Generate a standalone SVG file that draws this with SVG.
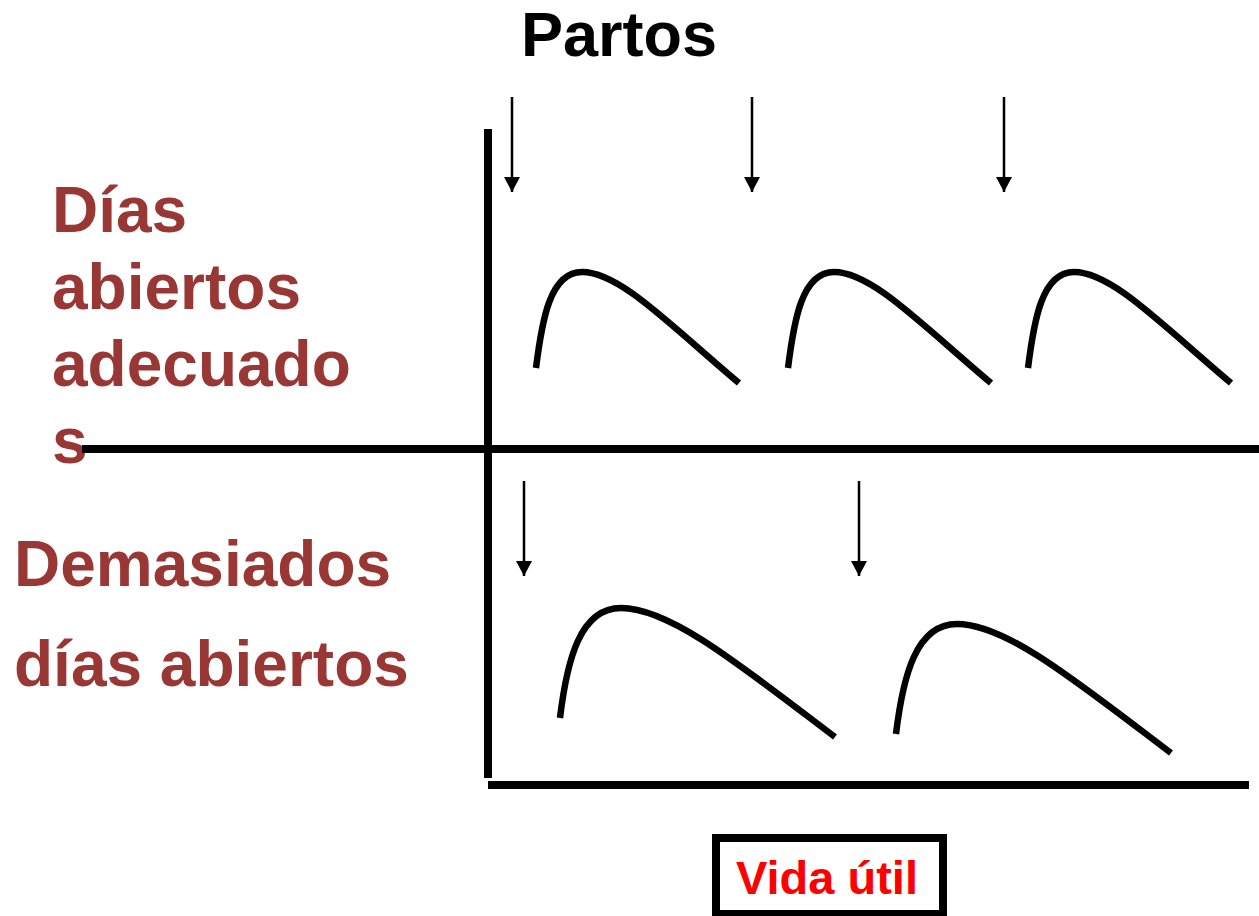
<svg xmlns="http://www.w3.org/2000/svg" width="1259" height="916" viewBox="0 0 1259 916">
<defs>
<marker id="ah" markerUnits="userSpaceOnUse" markerWidth="16" markerHeight="16" refX="15" refY="8" orient="auto" viewBox="0 0 16 16">
<path d="M0,0 L15,8 L0,16 Z" fill="#000"/>
</marker>
<style>
.lbl{font-family:"Liberation Sans",Arial,sans-serif;font-weight:bold;fill:#993735;font-size:64px}
.axis{stroke:#000;stroke-width:8;fill:none}
.curve{stroke:#000;stroke-width:6.5;fill:none}
.arr{stroke:#000;stroke-width:2.5;fill:none}
</style>
</defs>
<rect width="1259" height="916" fill="#fff"/>
<g id="title"><text x="521" y="56" style="font-family:'Liberation Sans',Arial,sans-serif;font-weight:bold;font-size:63px;fill:#000">Partos</text></g>
<g id="label-adecuados">
<text class="lbl" x="52" y="232">Días</text>
<text class="lbl" x="52" y="309">abiertos</text>
<text class="lbl" x="52" y="386">adecuado</text>
<text class="lbl" x="52" y="463">s</text>
</g>
<g id="label-demasiados">
<text class="lbl" x="14" y="586">Demasiados</text>
<text class="lbl" x="14" y="686">días abiertos</text>
</g>
<g id="axes">
<line class="axis" x1="488" y1="129" x2="488" y2="778"/>
<line class="axis" x1="82" y1="449" x2="1259" y2="449"/>
<line class="axis" x1="488" y1="785" x2="1249" y2="785"/>
</g>
<g id="curves">
<path class="curve" d="M536,368 C542,320 550,272 582,272 C620,272 670,325 739,383"/>
<path class="curve" d="M788,368 C794,320 802,272 834,272 C872,272 922,325 991,383"/>
<path class="curve" d="M1028,368 C1034,320 1042,272 1074,272 C1112,272 1162,325 1231,383"/>
<path class="curve" d="M560,718 C567,660 580,608 621,608 C670,608 740,665 835,737"/>
<path class="curve" d="M896,734 C903,676 916,624 957,624 C1006,624 1076,681 1171,753"/>
</g>
<g id="connectors">
<line class="arr" x1="512" y1="97" x2="512" y2="192" marker-end="url(#ah)"/>
<line class="arr" x1="752" y1="97" x2="752" y2="192" marker-end="url(#ah)"/>
<line class="arr" x1="1004" y1="97" x2="1004" y2="192" marker-end="url(#ah)"/>
<line class="arr" x1="524" y1="481" x2="524" y2="576" marker-end="url(#ah)"/>
<line class="arr" x1="859" y1="481" x2="859" y2="576" marker-end="url(#ah)"/>
</g>
<g id="vida-util">
<rect x="716" y="838" width="227" height="76" fill="#fff" stroke="#000" stroke-width="8"/>
<text x="736" y="894" style="font-family:'Liberation Sans',Arial,sans-serif;font-weight:bold;font-size:47px;fill:#ff0000">Vida útil</text>
</g>
</svg>
